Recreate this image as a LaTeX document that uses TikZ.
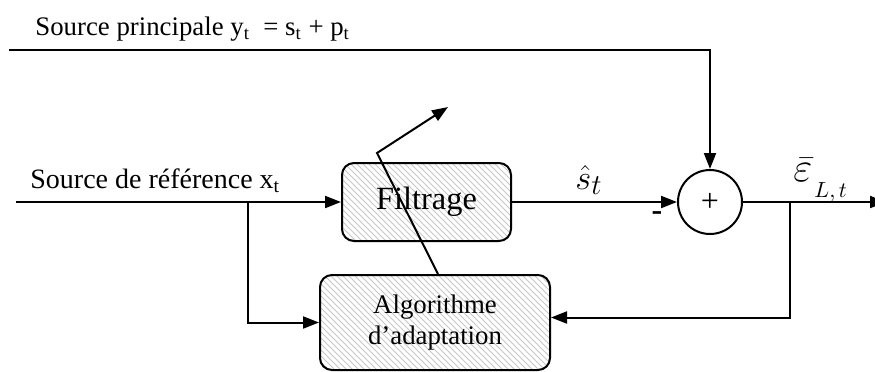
\documentclass[tikz,border=0pt]{standalone}
\usepackage{fontspec}
\setmainfont{Liberation Serif}
\usepackage{amsmath}
\usetikzlibrary{arrows.meta,patterns}
\definecolor{hatch}{gray}{0.78}

\tikzset{
  block/.style={draw=black, line width=1pt, rounded corners=6pt,
    pattern=north west lines, pattern color=hatch, align=center, inner sep=0pt},
  sig/.style={line width=1pt, -{Triangle[length=8pt,width=6pt]}},
  wire/.style={line width=1pt},
  lbl/.style={inner sep=0pt},
}

\begin{document}
\begin{tikzpicture}[x=0.5pt,y=-0.5pt]
  \useasboundingbox (0,0) rectangle (875,371);

  % --- Blocks ---
  \node[block, minimum width=84.5pt, minimum height=39pt,
    font=\fontsize{16.2}{18}\selectfont] (filt) at (426.5,202) {Filtrage};
  \node[block, minimum width=115pt, minimum height=47.5pt,
    font=\fontsize{13.4}{15}\selectfont] (algo) at (435,322.5) {Algorithme\\[0.6pt]d'adaptation};
  \node[draw, line width=1pt, circle, minimum size=32pt, inner sep=0pt,
    font=\fontsize{16}{18}\selectfont] (sum) at (710,202) {+};

  % --- Free ends and branch points ---
  \coordinate (in) at (16,202);
  \coordinate (top) at (9,50);
  \coordinate (out) at (886,202);
  \coordinate (br) at (248,202);
  \coordinate (fb) at (790,202);
  \coordinate (kink) at (377,153);
  \coordinate (adapt) at (448,107);

  % --- Signals ---
  \draw[sig] (in) -- (filt.west);
  \draw[sig] (top) -| (sum.north);
  \draw[sig] (filt.east) -- (sum.west);
  \draw[sig] (sum.east) -- (out);
  \draw[sig] (br) |- (algo.west);
  \draw[sig] (fb) |- ([yshift=2.5pt]algo.east);
  \draw[sig] ([xshift=1.5pt]algo.north) -- (kink) -- (adapt);

  % Labels
  \node[lbl, anchor=base west, font=\fontsize{13.4}{16}\selectfont] (mainlbl) at (35,35)
    {Source principale y\textsubscript{t}\ \ = s\textsubscript{t} + p\textsubscript{t}};
  \node[lbl, anchor=base west, font=\fontsize{14}{16}\selectfont] (reflbl) at (30,188)
    {Source de référence x\textsubscript{t}};
  \node[lbl, anchor=base, font=\fontsize{19}{22}\selectfont] (shat) at (589,189) {$\hat{s}_t$};
  \node[lbl, font=\fontsize{16}{18}\selectfont\bfseries] (minus) at (657,216) {-};
  \node[lbl, anchor=base, font=\fontsize{22}{24}\selectfont] (eps) at (803,181) {$\bar{\varepsilon}$};
  \node[lbl, anchor=base west, font=\fontsize{10.5}{12}\selectfont] (epssub) at (814,197) {$L,t$};
\end{tikzpicture}
\end{document}
